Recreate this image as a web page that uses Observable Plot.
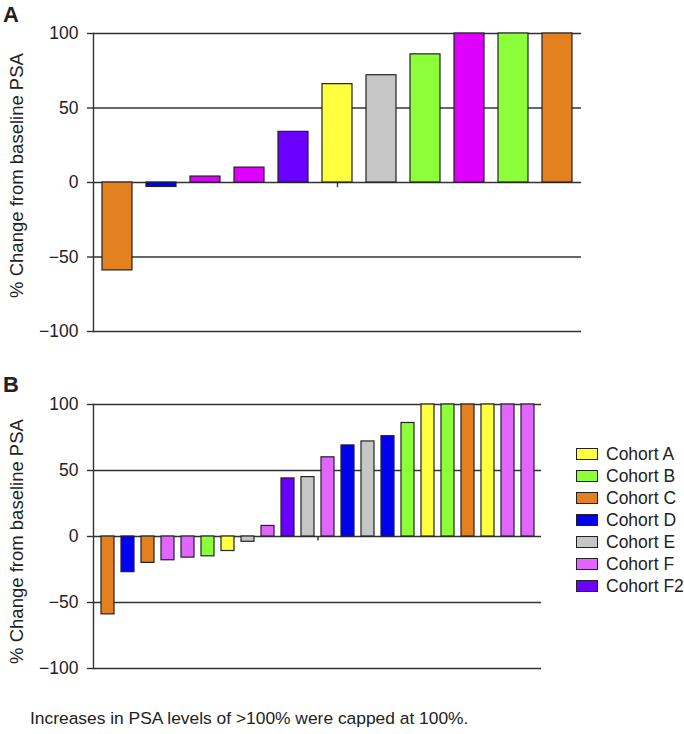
<!DOCTYPE html>
<html>
<head>
<meta charset="utf-8">
<script src="https://cdn.jsdelivr.net/npm/d3@7"></script>
<script src="https://cdn.jsdelivr.net/npm/@observablehq/plot@0.6"></script>
<style>
  body { margin: 0; background: #fff; }
  #wrap { position: relative; width: 684px; height: 734px; font-family: "Liberation Sans", Arial, sans-serif; color: #222; }
  .abs { position: absolute; }
  .panel { font-weight: bold; font-size: 22px; line-height: 1; }
  .legend-row { display: flex; align-items: center; height: 22px; font-size: 17.5px; }
  .sw { width: 20px; height: 10px; border: 1.3px solid #222; margin-right: 8px; }
</style>
</head>
<body>
<div id="wrap"></div>
<script>
// ---- data ----
const cohortNames = ["Cohort A", "Cohort B", "Cohort C", "Cohort D", "Cohort E", "Cohort F", "Cohort F2"];
const cohortColors = ["#FFFF40", "#8CFF3A", "#E3801F", "#0000F0", "#C6C6C6", "#E066FF", "#6A00FF"];

// Panel A (waterfall, sorted)
const valuesA  = [-59, -3, 4, 10, 34, 66, 72, 86, 100, 100, 100];
const colorsA  = ["#E3801F", "#0000F0", "#DD00FF", "#DD00FF", "#6A00FF", "#FFFF40", "#C6C6C6", "#8CFF3A", "#DD00FF", "#8CFF3A", "#E3801F"];

// Panel B (waterfall, sorted)
const valuesB  = [-59, -27, -20, -18, -16, -15, -11, -4, 8, 44, 45, 60, 69, 72, 76, 86, 100, 100, 100, 100, 100, 100];
const cohortsB = ["Cohort C", "Cohort D", "Cohort C", "Cohort F", "Cohort F", "Cohort B", "Cohort A", "Cohort E", "Cohort F",
                  "Cohort F2", "Cohort E", "Cohort F", "Cohort D", "Cohort E", "Cohort D", "Cohort B",
                  "Cohort A", "Cohort B", "Cohort C", "Cohort A", "Cohort F", "Cohort F"];

const yTicks = [-100, -50, 0, 50, 100];
const yLabel = "% Change from baseline PSA";
const caption = "Increases in PSA levels of >100% were capped at 100%.";

// ---- build ----
const wrap = document.getElementById("wrap");
const fmt = d => d < 0 ? "\u2212" + Math.abs(d) : String(d);
const font = "Liberation Sans, Arial, sans-serif";

function panel({rows, width, height, marginTop, marginBottom, marginRight, pInner, pOuter, tickX, tickDx, labelDy}) {
  return Plot.plot({
    width, height,
    marginLeft: 93, marginRight, marginTop, marginBottom,
    style: {fontFamily: font, fontSize: "17px", color: "#222", background: "transparent"},
    x: {type: "band", domain: rows.map(d => d.i), paddingInner: pInner, paddingOuter: pOuter, axis: null},
    y: {domain: [-100, 100], axis: null},
    marks: [
      Plot.ruleY(yTicks, {stroke: "#333", strokeWidth: 1.4}),
      Plot.axisY({ticks: yTicks, tickFormat: fmt, tickSize: 6, tickPadding: 9, stroke: "#333", strokeWidth: 1.4, label: null, fontSize: 17.5}),
      Plot.frame({anchor: "left", stroke: "#333", strokeWidth: 1.4}),
      Plot.ruleX([tickX], {x: d => d, y1: 0, y2: -3.5, dx: tickDx, stroke: "#333", strokeWidth: 1.4}),
      Plot.barY(rows, {x: "i", y: "v", fill: "c", stroke: "#222", strokeWidth: 1.2}),
      Plot.text([yLabel], {text: d => d, frameAnchor: "left", textAnchor: "middle", lineAnchor: "middle",
        rotate: -90, dx: -76, dy: labelDy, fontSize: 18.5, fill: "#222"})
    ]
  });
}

const rowsA = valuesA.map((v, k) => ({i: k + 1, v, c: colorsA[k]}));
const colorOf = c => cohortColors[cohortNames.indexOf(c)];
const rowsB = valuesB.map((v, k) => ({i: k + 1, v, c: colorOf(cohortsB[k])}));

const plotA = panel({rows: rowsA, width: 600, height: 345, marginTop: 33, marginBottom: 14, marginRight: 19,
  pInner: 0.32, pOuter: 0.16, tickX: 6, tickDx: 0, labelDy: -7});
plotA.classList.add("abs"); plotA.style.left = "0px"; plotA.style.top = "0px";
wrap.appendChild(plotA);

const plotB = panel({rows: rowsB, width: 560, height: 322, marginTop: 44, marginBottom: 14, marginRight: 19,
  pInner: 0.36, pOuter: 0.18, tickX: 12, tickDx: -10, labelDy: 5});
plotB.classList.add("abs"); plotB.style.left = "0px"; plotB.style.top = "360px";
wrap.appendChild(plotB);

// panel letters
for (const [t, top] of [["A", 4], ["B", 374]]) {
  const d = document.createElement("div");
  d.className = "abs panel"; d.textContent = t; d.style.left = "3px"; d.style.top = top + "px";
  wrap.appendChild(d);
}

// legend
const leg = document.createElement("div");
leg.className = "abs"; leg.style.left = "576px"; leg.style.top = "443px";
cohortNames.forEach((n, k) => {
  const r = document.createElement("div"); r.className = "legend-row";
  const s = document.createElement("div"); s.className = "sw"; s.style.background = cohortColors[k];
  const t = document.createElement("span"); t.textContent = n;
  r.appendChild(s); r.appendChild(t); leg.appendChild(r);
});
wrap.appendChild(leg);

// caption
const cap = document.createElement("div");
cap.className = "abs"; cap.style.left = "30px"; cap.style.top = "708px"; cap.style.fontSize = "17.4px";
cap.textContent = caption;
wrap.appendChild(cap);
</script>
</body>
</html>
